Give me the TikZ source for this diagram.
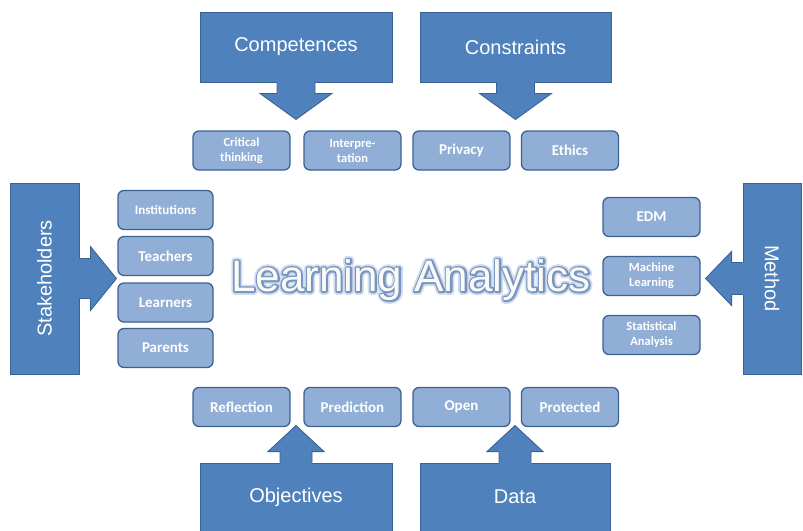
\documentclass[tikz,border=0pt]{standalone}
\usepackage{fontspec}
\setmainfont{Liberation Sans}
\newfontfamily\itemfont{Carlito}
\usetikzlibrary{calc}
\definecolor{boxblue}{RGB}{79,129,189}
\definecolor{boxedge}{RGB}{60,98,146}
\definecolor{itemblue}{RGB}{145,175,214}
\definecolor{titlefill}{RGB}{250,250,246}

% block arrow leaving a big box: anchor, rotation, stem half width, head half width
\newcommand{\blockarrow}[4]{
    \fill[boxblue,shift={(#1)},rotate=#2]
    (-#3,-1.5) -- (-#3,11) -- (-#4,11) -- (0,37) -- (#4,11) -- (#3,11) -- (#3,-1.5) -- cycle;
    \draw[boxedge,line width=0.9pt,line join=miter,shift={(#1)},rotate=#2]
    (-#3,0) -- (-#3,11) -- (-#4,11) -- (0,37) -- (#4,11) -- (#3,11) -- (#3,0);
}
% outlined text: stroke width, stroke colour (r g b)
\newcommand{\outlined}[3]{\special{pdf:code #1 w #2 RG 1 j 2 Tr}#3\special{pdf:code 0 Tr}}

\begin{document}
\begin{tikzpicture}[x=1pt,y=-1pt,
    bigbox/.style={fill=boxblue,draw=boxedge,line width=0.9pt,text=white,
        font=\fontsize{20}{24}\selectfont,inner sep=0pt},
    itembox/.style={fill=itemblue,draw=boxedge,line width=1.3pt,rounded corners=6pt,
        text=white,minimum width=97pt,minimum height=39pt,inner sep=0pt,align=center,
        font=\itemfont\bfseries\fontsize{15}{17}\selectfont},
    twoline/.style={font=\itemfont\bfseries\fontsize{12.5}{15}\selectfont},
    titletext/.style={text=titlefill,font=\fontsize{44}{44}\selectfont}]
    \useasboundingbox (0,0) rectangle (803,530);

    % the six big boxes
    \node[bigbox,minimum width=192pt,minimum height=70pt] (comp) at (296,47) {Competences};
    \node[bigbox,minimum width=191pt,minimum height=70pt] (cons) at (515.5,47) {Constraints};
    \node[bigbox,minimum width=192pt,minimum height=69pt] (obj) at (296,497.5) {};
    \node[bigbox,minimum width=190pt,minimum height=69pt] (data) at (515,497.5) {};
    \node[bigbox,minimum width=69pt,minimum height=191pt] (stake) at (44.5,278.5) {};
    \node[bigbox,minimum width=58pt,minimum height=191pt] (meth) at (772,278.5) {};
    \node[text=white,font=\fontsize{20}{24}\selectfont] at (296,497) {Objectives};
    \node[text=white,font=\fontsize{20}{24}\selectfont] at (515,497) {Data};
    \node[text=white,font=\fontsize{20}{24}\selectfont,rotate=90] at (44.5,278.5) {Stakeholders};
    \node[text=white,font=\fontsize{20}{24}\selectfont,rotate=-90] at (772,278.5) {Method};

    % arrows
    \blockarrow{comp.south}{0}{19}{36}
    \blockarrow{cons.south}{0}{19}{36}
    \blockarrow{obj.north}{180}{16}{28}
    \blockarrow{data.north}{180}{16}{28}
    \blockarrow{stake.east}{90}{20}{32}
    \blockarrow{meth.west}{-90}{16}{27}

    % top row
    \node[itembox,twoline] (crit) at (241.5,150.5) {Critical\\thinking};
    \node[itembox,twoline] (interp) at (352.5,150.5) {Interpre-\\tation};
    \node[itembox] (priv) at (461.5,150.5) {Privacy};
    \node[itembox] (eth) at (570,150.5) {Ethics};

    % bottom row
    \node[itembox] (refl) at (241.5,407) {Reflection};
    \node[itembox] (pred) at (352.5,407) {Prediction};
    \node[itembox] (open) at (461.5,407) {Open};
    \node[itembox] (prot) at (570,407) {Protected};

    % left column
    \node[itembox,minimum width=95pt,font=\itemfont\bfseries\fontsize{13}{15}\selectfont] (inst) at (165.5,210) {Institutions};
    \node[itembox,minimum width=95pt] (teach) at (165.5,256) {Teachers};
    \node[itembox,minimum width=95pt] (learn) at (165.5,302.5) {Learners};
    \node[itembox,minimum width=95pt] (par) at (165.5,348) {Parents};

    % right column
    \node[itembox] (edm) at (651.5,217) {EDM};
    \node[itembox,twoline] (ml) at (651.5,276) {Machine\\Learning};
    \node[itembox,twoline] (stat) at (651.5,335) {Statistical\\Analysis};

    % title: glow, outline, then fill
    \node[titletext] (title-glow) at (411,280) {\outlined{7}{0.82 0.87 0.94}{Learning Analytics}};
    \node[titletext] (title-edge) at (411,280) {\outlined{3.4}{0.47 0.58 0.75}{Learning Analytics}};
    \node[titletext] (title) at (411,280) {Learning Analytics};
\end{tikzpicture}
\end{document}
